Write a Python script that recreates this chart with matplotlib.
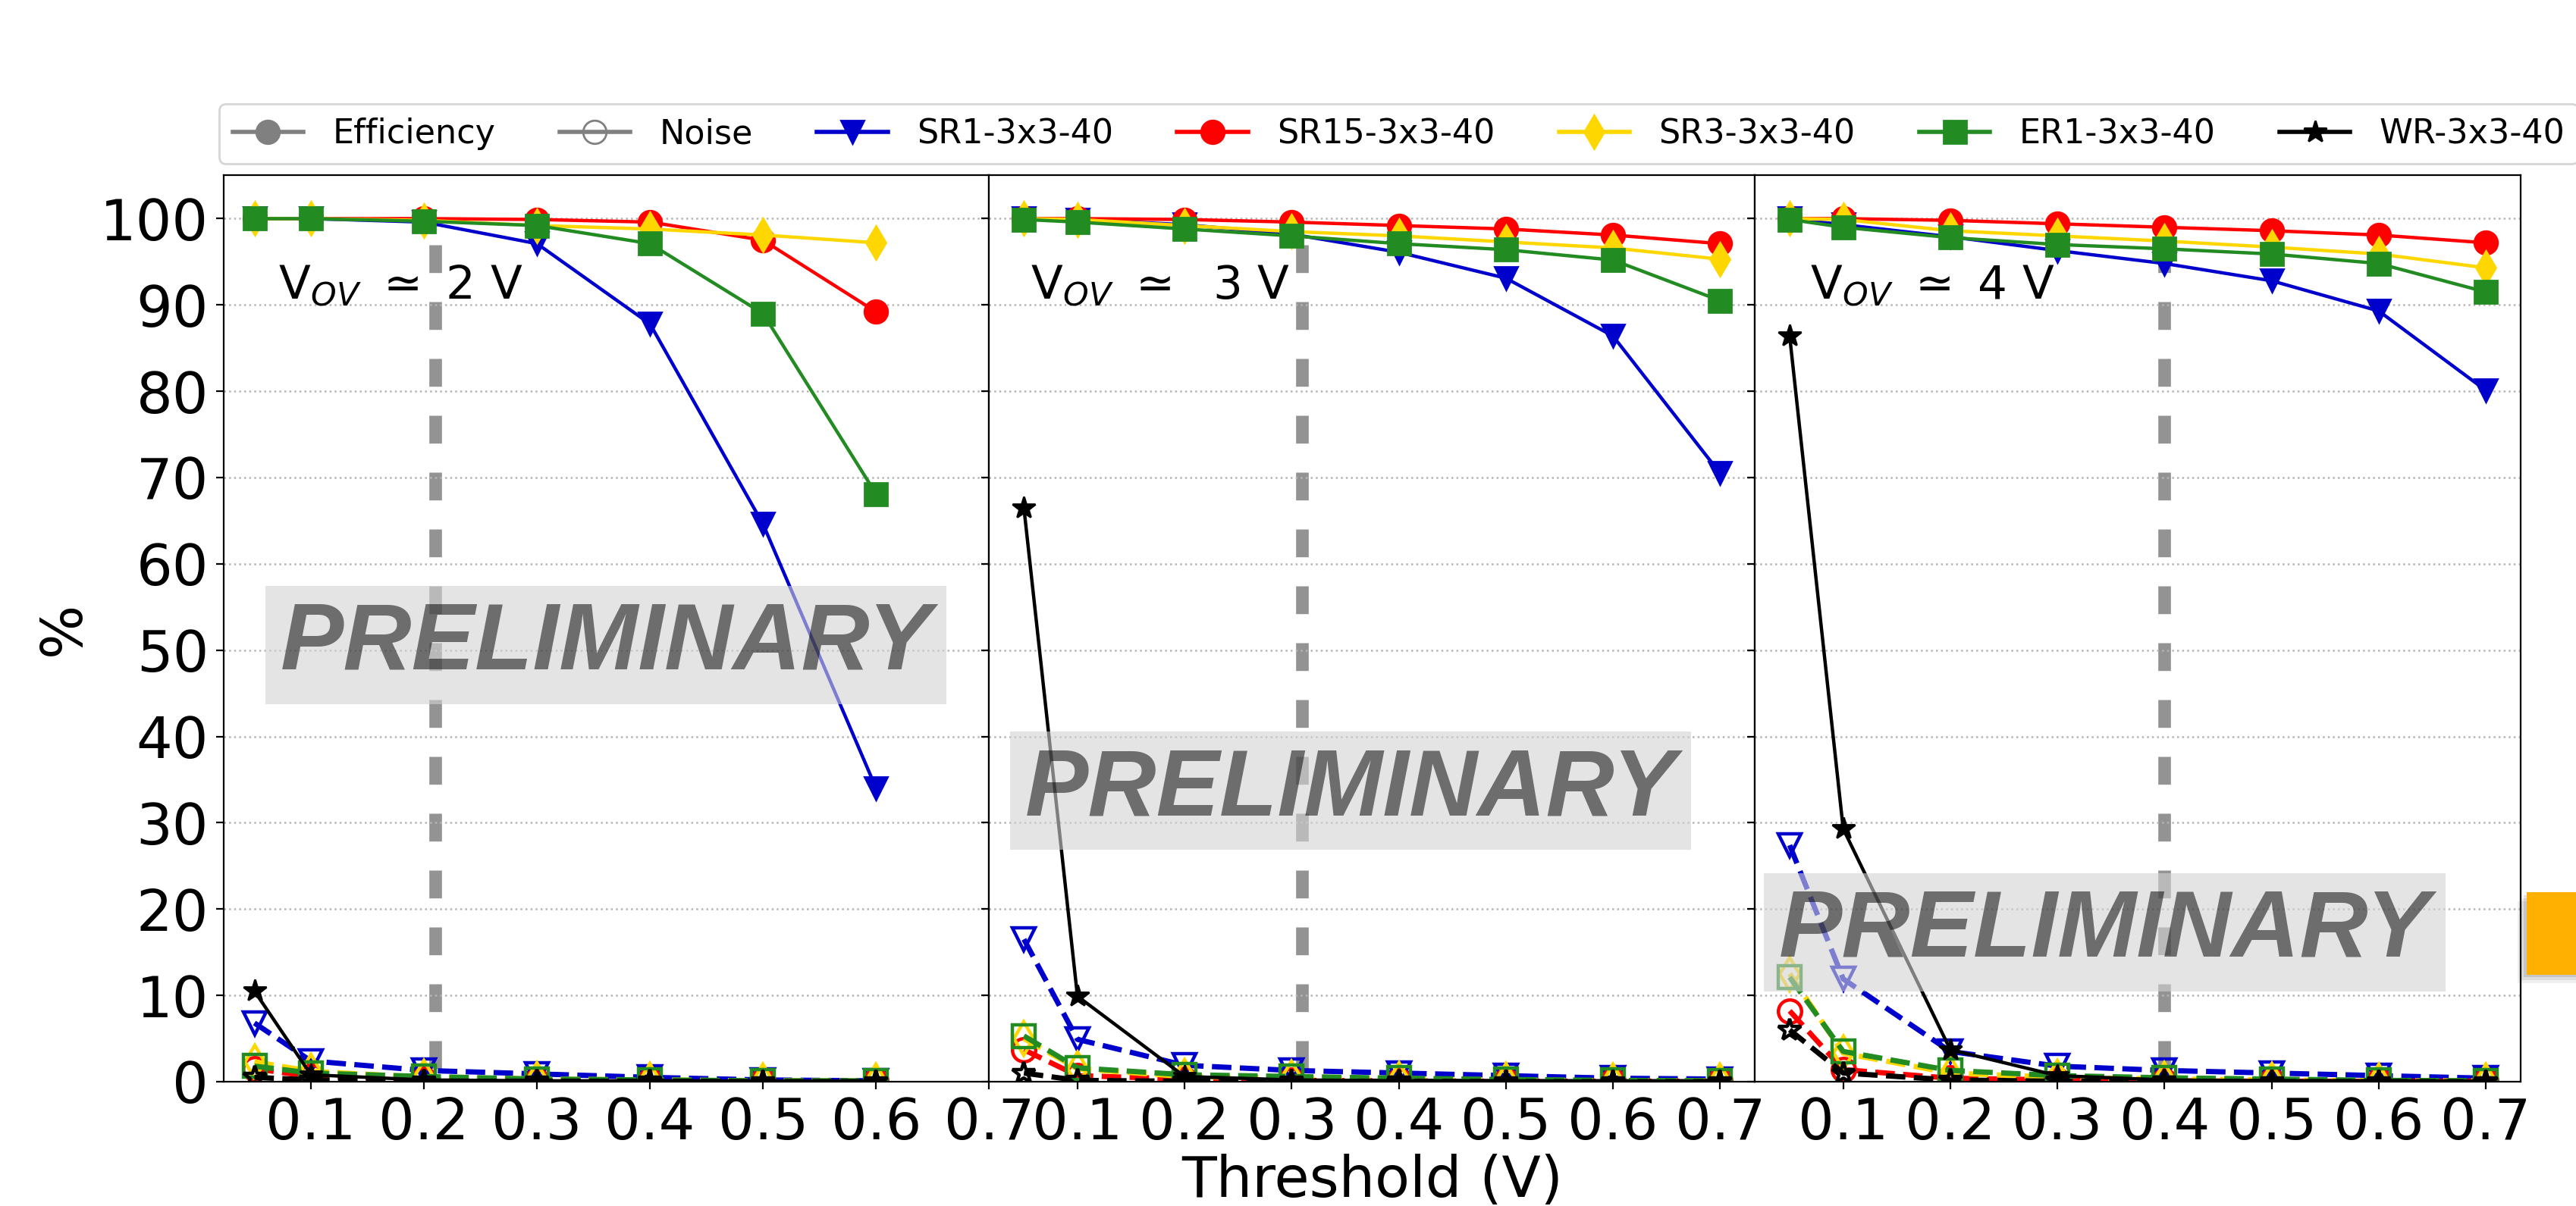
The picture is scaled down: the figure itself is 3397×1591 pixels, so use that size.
import matplotlib
matplotlib.use("Agg")
import matplotlib.pyplot as plt
import matplotlib.patches as mpatches
from matplotlib.lines import Line2D

DPI = 200
GRID = "#b5b5b5"
CUT_COLOR = "#939393"

# ── data ──────────────────────────────────────────────────────────
THR_2V = [0.05, 0.1, 0.2, 0.3, 0.4, 0.5, 0.6]
THR_3V = [0.05, 0.1, 0.2, 0.3, 0.4, 0.5, 0.6, 0.7]
THR_4V = [0.05, 0.1, 0.2, 0.3, 0.4, 0.5, 0.6, 0.7]
XTICKS = [0.1, 0.2, 0.3, 0.4, 0.5, 0.6, 0.7]
YTICKS = [0, 10, 20, 30, 40, 50, 60, 70, 80, 90, 100]
VOV_LABELS = ["V$_{OV}$ $\\simeq$ 2 V", "V$_{OV}$ $\\simeq$  3 V", "V$_{OV}$ $\\simeq$ 4 V"]
CUTS = [0.21, 0.31, 0.40]
CUT_TOP = 97

# efficiency (%)
SR1_EFF_2V = [100, 100, 99.6, 97.1, 87.8, 64.6, 34.0]
SR15_EFF_2V = [100, 100, 100, 99.9, 99.6, 97.5, 89.2]
SR3_EFF_2V = [100, 100, 99.8, 99.2, 98.8, 98.1, 97.2]
ER1_EFF_2V = [100, 100, 99.7, 99.2, 97.1, 89.0, 68.1]
WR_EFF_2V = [10.5, 0.8, 0.2, 0.1, 0.1, 0.05, 0.05]

SR1_EFF_3V = [100, 99.9, 99.3, 98.2, 96.1, 93.1, 86.4, 70.5]
SR15_EFF_3V = [100, 100, 99.9, 99.6, 99.2, 98.8, 98.1, 97.1]
SR3_EFF_3V = [100, 99.9, 99.2, 98.5, 98.0, 97.3, 96.6, 95.3]
ER1_EFF_3V = [99.9, 99.6, 98.8, 98.0, 97.1, 96.4, 95.2, 90.5]
WR_EFF_3V = [66.5, 9.9, 0.6, 0.2, 0.1, 0.1, 0.05, 0.05]

SR1_EFF_4V = [100, 99.3, 97.9, 96.3, 94.8, 92.8, 89.3, 80.1]
SR15_EFF_4V = [100, 100, 99.8, 99.4, 99.0, 98.6, 98.1, 97.2]
SR3_EFF_4V = [100, 99.9, 98.6, 98.0, 97.4, 96.7, 95.9, 94.3]
ER1_EFF_4V = [99.9, 99.0, 97.8, 97.0, 96.5, 95.9, 94.8, 91.5]
WR_EFF_4V = [86.4, 29.3, 3.7, 0.7, 0.2, 0.1, 0.1, 0.05]

# noise (%)
SR1_NOI_2V = [6.8, 2.4, 1.3, 0.9, 0.5, 0.2, 0.1]
SR15_NOI_2V = [1.5, 0.6, 0.3, 0.1, 0.1, 0.05, 0.05]
SR3_NOI_2V = [2.3, 1.2, 0.5, 0.3, 0.2, 0.1, 0.05]
ER1_NOI_2V = [1.8, 1.0, 0.6, 0.3, 0.2, 0.1, 0.1]
WR_NOI_2V = [0.5, 0.2, 0.05, 0.05, 0.05, 0.0, 0.0]

SR1_NOI_3V = [16.5, 4.9, 1.9, 1.3, 1.0, 0.7, 0.4, 0.3]
SR15_NOI_3V = [3.7, 0.7, 0.3, 0.15, 0.1, 0.05, 0.05, 0.05]
SR3_NOI_3V = [5.0, 1.5, 0.6, 0.4, 0.3, 0.2, 0.1, 0.1]
ER1_NOI_3V = [5.3, 1.6, 0.8, 0.6, 0.4, 0.25, 0.15, 0.1]
WR_NOI_3V = [1.0, 0.15, 0.05, 0.05, 0.05, 0.0, 0.0, 0.0]

SR1_NOI_4V = [27.4, 11.9, 3.5, 1.8, 1.3, 1.0, 0.7, 0.4]
SR15_NOI_4V = [8.2, 1.4, 0.4, 0.2, 0.1, 0.05, 0.05, 0.05]
SR3_NOI_4V = [12.5, 3.3, 1.0, 0.5, 0.3, 0.2, 0.1, 0.1]
ER1_NOI_4V = [12.1, 3.5, 1.3, 0.7, 0.45, 0.3, 0.15, 0.1]
WR_NOI_4V = [6.0, 1.0, 0.2, 0.05, 0.05, 0.0, 0.0, 0.0]

# label, marker, color, eff per panel, noise per panel
SERIES = [
    ("SR1-3x3-40", "v", "#0000cd",
     [SR1_EFF_2V, SR1_EFF_3V, SR1_EFF_4V], [SR1_NOI_2V, SR1_NOI_3V, SR1_NOI_4V]),
    ("SR15-3x3-40", "o", "red",
     [SR15_EFF_2V, SR15_EFF_3V, SR15_EFF_4V], [SR15_NOI_2V, SR15_NOI_3V, SR15_NOI_4V]),
    ("SR3-3x3-40", "d", "gold",
     [SR3_EFF_2V, SR3_EFF_3V, SR3_EFF_4V], [SR3_NOI_2V, SR3_NOI_3V, SR3_NOI_4V]),
    ("ER1-3x3-40", "s", "forestgreen",
     [ER1_EFF_2V, ER1_EFF_3V, ER1_EFF_4V], [ER1_NOI_2V, ER1_NOI_3V, ER1_NOI_4V]),
    ("WR-3x3-40", "*", "black",
     [WR_EFF_2V, WR_EFF_3V, WR_EFF_4V], [WR_NOI_2V, WR_NOI_3V, WR_NOI_4V]),
]
THRS = [THR_2V, THR_3V, THR_4V]

# position of the watermark / labels per panel (data coords)
VOV_POS = [(0.071, 90.7), (0.056, 90.7), (0.069, 90.7)]
PRELIM_POS = [(0.361, 50.6), (0.355, 33.7), (0.344, 17.3)]

# ── figure ────────────────────────────────────────────────────────
fig, axes = plt.subplots(1, 3, sharey=True, figsize=(3397 / DPI, 1591 / DPI), dpi=DPI)
fig.patch.set_facecolor("white")
fig.subplots_adjust(left=0.0867, right=0.9785, bottom=0.1031, top=0.8545, wspace=0)

for i, ax in enumerate(axes):
    x = THRS[i]
    for label, mk, col, effs, nois in SERIES:
        ax.plot(x, effs[i], color=col, marker=mk, markersize=11,
                linewidth=1.6, linestyle="-")
        ax.plot(x, nois[i], color=col, marker=mk, markersize=11,
                markerfacecolor="none", markeredgewidth=1.6,
                linewidth=2.5, linestyle="--")

    ax.plot([CUTS[i], CUTS[i]], [CUT_TOP, 0], color=CUT_COLOR, linewidth=6,
            dashes=(2.2, 2.3), zorder=1.5)

    ax.text(VOV_POS[i][0], VOV_POS[i][1], VOV_LABELS[i], fontsize=22,
            va="baseline", ha="left")

    ax.text(PRELIM_POS[i][0], PRELIM_POS[i][1], "PRELIMINARY",
            family="Liberation Sans", weight="bold", style="italic",
            fontsize=45, color="black", alpha=0.52,
            ha="center", va="center", zorder=5,
            bbox=dict(boxstyle="square,pad=0.16", facecolor="lightgrey",
                      edgecolor="none", alpha=0.6))

    ax.set_xticks(XTICKS)
    ax.set_xticklabels([f"{t:.1f}" for t in XTICKS])
    ax.set_yticks(YTICKS)
    ax.set_ylim(0, 105)
    ax.grid(axis="y", linestyle=":", color=GRID, linewidth=0.9)
    ax.tick_params(labelsize=27)
    if i > 0:
        ax.tick_params(labelleft=False)

axes[0].set_xlim(0.0225, 0.7)
axes[1].set_xlim(0.0175, 0.7325)
axes[2].set_xlim(0.0175, 0.7325)

axes[0].set_ylabel("%", fontsize=27)
axes[1].set_xlabel("Threshold (V)", fontsize=27, labelpad=1)

# legend
handles = [
    Line2D([], [], color="grey", marker="o", markersize=11, linewidth=2, label="Efficiency"),
    Line2D([], [], color="grey", marker="o", markersize=11, markerfacecolor="none",
           linewidth=2, label="Noise"),
]
for label, mk, col, _, _ in SERIES:
    handles.append(Line2D([], [], color=col, marker=mk, markersize=11,
                          linewidth=2, label=label))
fig.legend(handles=handles, loc="center", bbox_to_anchor=(0.543, 0.889),
           ncol=7, fontsize=16, handlelength=2.1, handletextpad=0.86,
           columnspacing=1.9, frameon=True, fancybox=True)

# orange slide element at the right edge, with a soft shadow
for k, a in enumerate([0.10, 0.08, 0.06]):
    d = 0.0012 * (k + 1)
    fig.patches.append(mpatches.Rectangle(
        (0.981 - d, 0.192 - 2 * d), 0.05, 0.068, transform=fig.transFigure,
        facecolor="black", edgecolor="none", alpha=a, zorder=9))
fig.patches.append(mpatches.Rectangle(
    (0.981, 0.192), 0.05, 0.068, transform=fig.transFigure,
    facecolor="#ffb000", edgecolor="none", zorder=10))

plt.savefig("out.png", dpi=DPI, facecolor="white")
plt.close(fig)
